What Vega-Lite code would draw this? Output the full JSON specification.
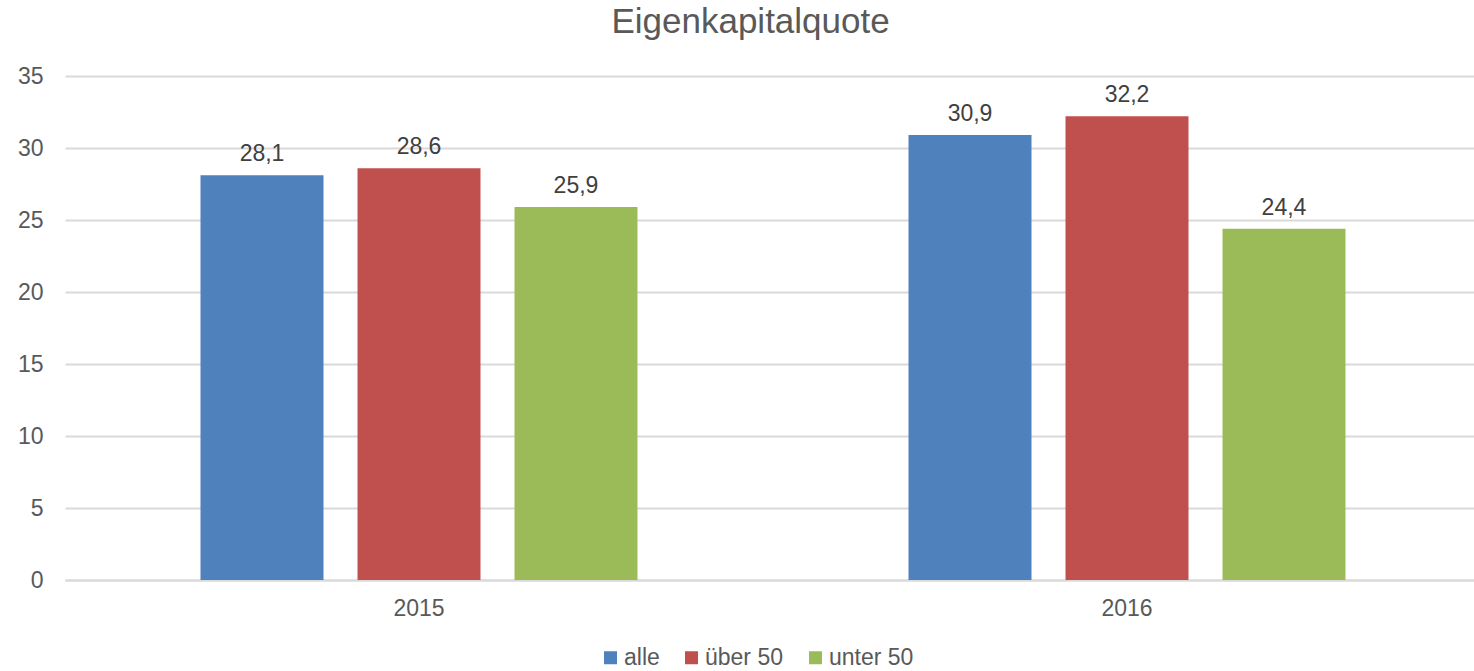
{
  "$schema": "https://vega.github.io/schema/vega-lite/v6.json",
  "autosize": {"type": "none"},
  "width": 1416,
  "height": 504,
  "padding": {"left": 65, "top": 76, "right": 1, "bottom": 91},
  "background": "white",
  "title": {
    "text": "Eigenkapitalquote",
    "font": "Liberation Sans",
    "fontSize": 35,
    "fontWeight": "normal",
    "color": "#595959",
    "anchor": "start",
    "dx": 594,
    "offset": 25
  },
  "data": {
    "values": [
      {"Jahr": "2015", "Gruppe": "alle", "Wert": 28.1},
      {"Jahr": "2015", "Gruppe": "über 50", "Wert": 28.6},
      {"Jahr": "2015", "Gruppe": "unter 50", "Wert": 25.9},
      {"Jahr": "2016", "Gruppe": "alle", "Wert": 30.9},
      {"Jahr": "2016", "Gruppe": "über 50", "Wert": 32.2},
      {"Jahr": "2016", "Gruppe": "unter 50", "Wert": 24.4}
    ]
  },
  "encoding": {
    "x": {
      "field": "Jahr",
      "type": "nominal",
      "title": null,
      "scale": {"paddingInner": 0.3828, "paddingOuter": 0.1914},
      "axis": {
        "labelAngle": 0,
        "labelFont": "Liberation Sans",
        "labelFontSize": 23,
        "labelColor": "#595959",
        "labelPadding": 17,
        "ticks": false,
        "domainColor": "#d9d9d9",
        "domainWidth": 2
      }
    },
    "xOffset": {
      "field": "Gruppe",
      "type": "nominal",
      "sort": ["alle", "über 50", "unter 50"],
      "scale": {"paddingInner": 0.2166, "paddingOuter": 0}
    },
    "y": {
      "field": "Wert",
      "type": "quantitative",
      "title": null,
      "scale": {"domain": [0, 35], "nice": false},
      "axis": {
        "values": [0, 5, 10, 15, 20, 25, 30, 35],
        "labelFont": "Liberation Sans",
        "labelFontSize": 23,
        "labelColor": "#595959",
        "labelPadding": 22,
        "ticks": false,
        "domain": false,
        "gridColor": "#d9d9d9",
        "gridWidth": 2,
        "format": "d"
      }
    }
  },
  "layer": [
    {
      "mark": {"type": "bar"},
      "encoding": {
        "color": {
          "field": "Gruppe",
          "type": "nominal",
          "sort": ["alle", "über 50", "unter 50"],
          "scale": {"domain": ["alle", "über 50", "unter 50"], "range": ["#4F81BD", "#C0504D", "#9BBB59"]},
          "legend": {
            "title": null,
            "orient": "none",
            "direction": "horizontal",
            "legendX": 534,
            "legendY": 570,
            "symbolType": "square",
            "symbolSize": 169,
            "symbolStrokeWidth": 0,
            "labelFont": "Liberation Sans",
            "labelFontSize": 23,
            "labelColor": "#595959",
            "labelOffset": 2,
            "columnPadding": 20
          }
        }
      }
    },
    {
      "mark": {
        "type": "text",
        "baseline": "bottom",
        "dy": -9,
        "font": "Liberation Sans",
        "fontSize": 23,
        "color": "#404040"
      },
      "encoding": {
        "text": {"field": "Wert", "type": "quantitative", "format": ".1f"}
      }
    }
  ],
  "config": {
    "view": {"stroke": null},
    "locale": {
      "number": {"decimal": ",", "thousands": ".", "grouping": [3], "currency": ["", " €"]}
    }
  }
}
